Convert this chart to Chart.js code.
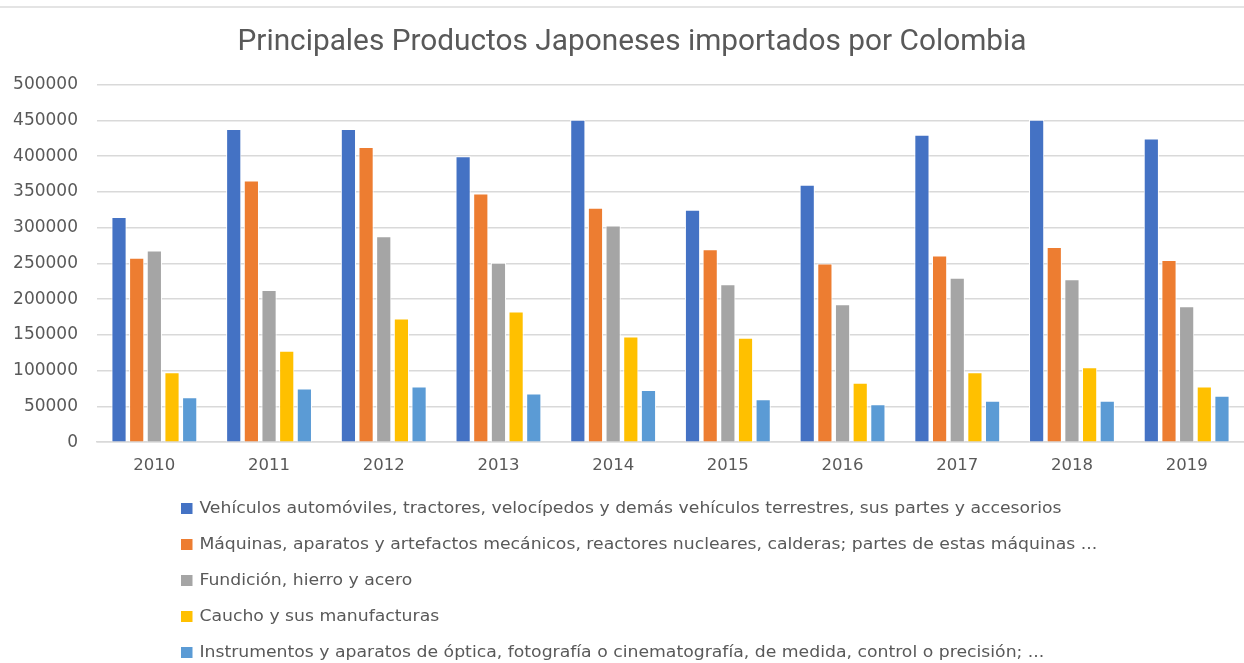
<!DOCTYPE html>
<html>
<head>
<meta charset="utf-8">
<script src="https://cdn.jsdelivr.net/npm/chart.js@4"></script>
<style>
  html, body { margin: 0; padding: 0; background: #fff; }
  #page { position: relative; width: 1244px; height: 663px; overflow: hidden; }
  #topRule { position: absolute; left: 0; top: 6px; width: 1244px; height: 2px; background: #e4e4e4; }
  #chartBox { position: absolute; left: 0; top: 0; width: 1244px; height: 500px; }
  #legend { position: absolute; left: 181px; top: 490px; font-family: "DejaVu Sans", sans-serif; font-size: 15px; color: #595959;
            transform: scaleX(1.15); transform-origin: left top; }
  .legend-item { display: flex; align-items: center; height: 36px; white-space: nowrap; }
  .legend-box { width: 10px; height: 11px; margin-right: 6px; }
</style>
</head>
<body>
<div id="page">
  <div id="topRule"></div>
  <div id="chartBox"><canvas id="bars"></canvas></div>
  <div id="legend"></div>
</div>
<script>
// years on the x axis
const years = ['2010', '2011', '2012', '2013', '2014', '2015', '2016', '2017', '2018', '2019'];

const seriesNames = [
    'Vehículos automóviles, tractores, velocípedos y demás vehículos terrestres, sus partes y accesorios',
    'Máquinas, aparatos y artefactos mecánicos, reactores nucleares, calderas; partes de estas máquinas ...',
    'Fundición, hierro y acero',
    'Caucho y sus manufacturas',
    'Instrumentos y aparatos de óptica, fotografía o cinematografía, de medida, control o precisión; ...'
];

// values
const vehiculos   = [315000, 438000, 438000, 400000, 451000, 325000, 360000, 430000, 451000, 425000];
const maquinas    = [258000, 366000, 413000, 348000, 328000, 270000, 250000, 261000, 273000, 255000];
const fundicion   = [268000, 213000, 288000, 251000, 303000, 221000, 193000, 230000, 228000, 190000];
const caucho      = [98000, 128000, 173000, 183000, 148000, 146000, 83000, 98000, 105000, 78000];
const instrumentos = [63000, 75000, 78000, 68000, 73000, 60000, 53000, 58000, 58000, 65000];

const yTicks = [0, 50000, 100000, 150000, 200000, 250000, 300000, 350000, 400000, 450000, 500000];

const colors = ['#4472C4', '#ED7D31', '#A5A5A5', '#FFC000', '#5B9BD5'];
const textColor = '#595959';

const allSeries = [vehiculos, maquinas, fundicion, caucho, instrumentos];

const datasets = allSeries.map((values, i) => ({
    label: seriesNames[i],
    data: values,
    backgroundColor: colors[i],
    borderColor: '#ffffff',
    borderWidth: 1,
    categoryPercentage: 0.77,
    barPercentage: 0.86
}));

// the original title sits ~10px right of the canvas centre
const titleNudge = {
    id: 'titleNudge',
    afterLayout(chart) {
        if (chart.titleBlock) {
            chart.titleBlock.left += 10;
            chart.titleBlock.right += 10;
        }
    }
};

const chart = new Chart(document.getElementById('bars'), {
    type: 'bar',
    data: { labels: years, datasets },
    plugins: [titleNudge],
    options: {
        responsive: true,
        maintainAspectRatio: false,
        animation: false,
        layout: { padding: { left: 0, right: 0, top: 0, bottom: 10 } },
        plugins: {
            legend: { display: false },
            tooltip: { enabled: false },
            title: {
                display: true,
                text: 'Principales Productos Japoneses importados por Colombia',
                color: textColor,
                font: { family: 'Roboto', size: 29.8, weight: 'normal' },
                padding: { top: 25, bottom: 24 }
            }
        },
        scales: {
            x: {
                grid: { display: false, drawTicks: false },
                border: { color: '#d9d9d9', width: 1.5 },
                ticks: { color: textColor, font: { family: 'DejaVu Sans', size: 16.5 }, padding: 14 }
            },
            y: {
                min: 0,
                max: 500000,
                afterBuildTicks: (axis) => { axis.ticks = yTicks.map(v => ({ value: v })); },
                afterFit: (axis) => { axis.width = 97; },
                grid: { color: '#d9d9d9', lineWidth: 1.5, drawTicks: false },
                border: { display: false },
                ticks: {
                    color: textColor,
                    font: { family: 'DejaVu Sans', size: 17 },
                    padding: 19,
                    callback: (v) => String(v)
                }
            }
        }
    }
});

// legend in one column, built from the chart's datasets
const legendEl = document.getElementById('legend');
chart.data.datasets.forEach((ds) => {
    const item = document.createElement('div');
    item.className = 'legend-item';
    const box = document.createElement('span');
    box.className = 'legend-box';
    box.style.background = ds.backgroundColor;
    const label = document.createElement('span');
    label.textContent = ds.label;
    item.appendChild(box);
    item.appendChild(label);
    legendEl.appendChild(item);
});
</script>
</body>
</html>
